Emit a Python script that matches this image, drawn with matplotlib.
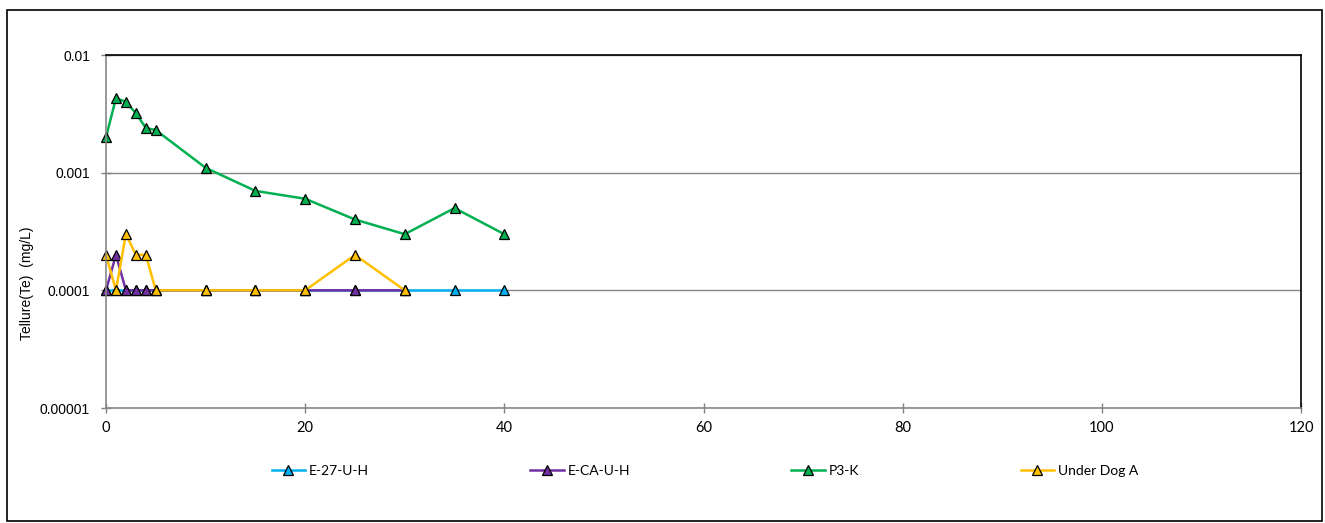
import matplotlib
matplotlib.use("Agg")
import matplotlib.pyplot as plt
from matplotlib.patches import Rectangle

# sampling days and concentrations (mg/L)
days = [0, 1, 2, 3, 4, 5, 10, 15, 20, 25, 30, 35, 40]
e27 = [0.0001] * 13
eca_days = [0, 1, 2, 3, 4, 5, 10, 15, 20, 25, 30]
eca = [0.0001, 0.0002, 0.0001, 0.0001, 0.0001, 0.0001, 0.0001, 0.0001, 0.0001, 0.0001, 0.0001]
p3k = [0.002, 0.0043, 0.004, 0.0032, 0.0024, 0.0023, 0.0011, 0.0007, 0.0006, 0.0004, 0.0003, 0.0005, 0.0003]
dog_days = [0, 1, 2, 3, 4, 5, 10, 15, 20, 25, 30]
dog = [0.0002, 0.0001, 0.0003, 0.0002, 0.0002, 0.0001, 0.0001, 0.0001, 0.0001, 0.0002, 0.0001]

series = [
    ("E-27-U-H", days, e27, "#00B0F0"),
    ("E-CA-U-H", eca_days, eca, "#7030A0"),
    ("P3-K", days, p3k, "#00B050"),
    ("Under Dog A", dog_days, dog, "#FFC000"),
]

W, H = 1325, 523
fig = plt.figure(figsize=(W / 100, H / 100), dpi=100)
ax = fig.add_axes([106 / W, 1 - 408 / H, (1301 - 106) / W, (408 - 55) / H])

for name, x, y, c in series:
    ax.plot(x, y, color=c, lw=1.8, marker="^", markersize=7, clip_on=False,
            markerfacecolor=c, markeredgecolor="black", markeredgewidth=0.9, label=name)

ax.set_yscale("log")
ax.set_ylim(0.00001, 0.01)
ax.set_xlim(0, 120)
ax.set_xticks([0, 20, 40, 60, 80, 100, 120])
ax.set_yticks([0.00001, 0.0001, 0.001, 0.01])
ax.set_yticklabels(["0.00001", "0.0001", "0.001", "0.01"], family="Liberation Sans", fontsize=10)
ax.set_xticklabels(["0", "20", "40", "60", "80", "100", "120"], family="Lato", fontsize=10.5)
ax.yaxis.set_minor_locator(matplotlib.ticker.NullLocator())
ax.tick_params(axis="both", direction="inout", length=7, color="#808080", width=1)
ax.tick_params(axis="y", pad=8)
ax.tick_params(axis="x", pad=6)
ax.grid(axis="y", color="#888888", lw=1)
ax.set_axisbelow(True)
for s in ["left", "bottom"]:
    ax.spines[s].set_color("#888888")
    ax.spines[s].set_linewidth(1.2)
for s in ["top", "right"]:
    ax.spines[s].set_color("black")
    ax.spines[s].set_linewidth(1.2)

fig.text(27 / W, 1 - 283 / H, "Tellure(Te)  (mg/L)", rotation=90, ha="center", va="center",
         family="Liberation Sans", fontsize=10)

fig.legend(loc="center", bbox_to_anchor=(705 / W, 1 - 471 / H), ncol=4, frameon=False,
           prop={"family": "Lato", "size": 10}, handlelength=2.4, columnspacing=11.6,
           handletextpad=0.3)

fig.patches.append(Rectangle((7 / W, 1 - 521 / H), (1322 - 7) / W, (521 - 10) / H,
                             transform=fig.transFigure, fill=False, ec="black", lw=1.2))

fig.savefig("out.png", dpi=100)
